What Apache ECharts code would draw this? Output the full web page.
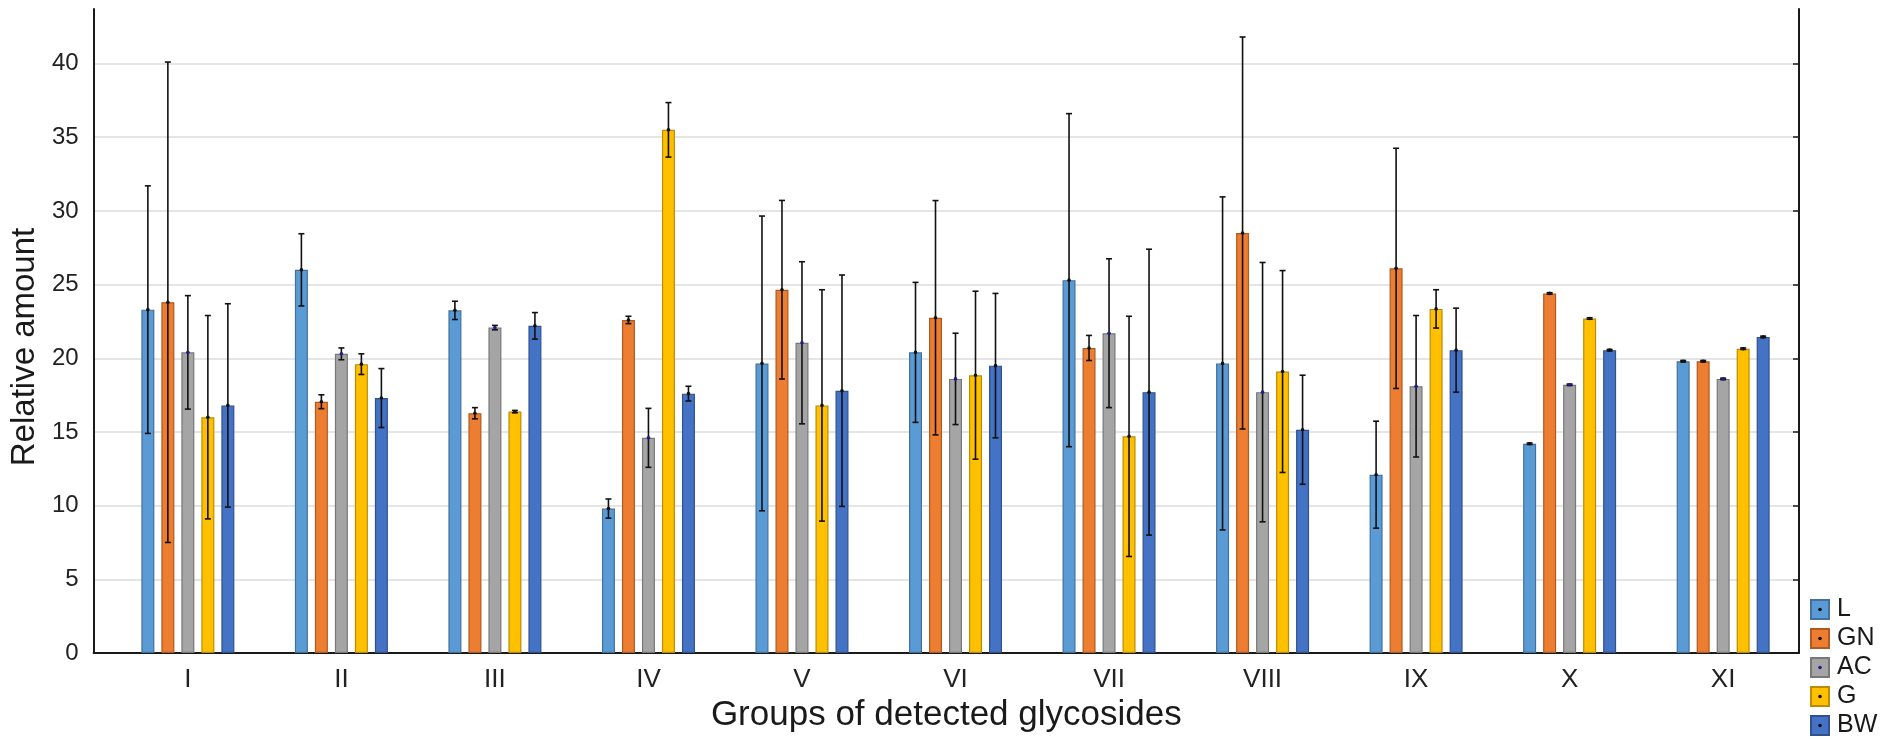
<!DOCTYPE html>
<html>
<head>
<meta charset="utf-8">
<title>Groups of detected glycosides</title>
<script src="https://cdn.jsdelivr.net/npm/echarts@6/dist/echarts.min.js"></script>
<style>
  html, body { margin: 0; padding: 0; background: #ffffff; }
  #chart { width: 1892px; height: 740px; }
</style>
</head>
<body>
<div id="chart"></div>
<script>
// Groups of glycosides on the x axis
const categories = ['I', 'II', 'III', 'IV', 'V', 'VI', 'VII', 'VIII', 'IX', 'X', 'XI'];
const seriesNames = ['L', 'GN', 'AC', 'G', 'BW'];

// Mean relative amount and half-width of the error bar, per group
const meanL  = [23.3, 26.0, 23.25, 9.8, 19.65, 20.4, 25.3, 19.65, 12.1, 14.2, 19.8];
const errL   = [8.4, 2.45, 0.62, 0.65, 10.0, 4.75, 11.3, 11.3, 3.63, 0.05, 0.05];
const meanGN = [23.8, 17.05, 16.27, 22.6, 24.65, 22.75, 20.7, 28.5, 26.1, 24.4, 19.8];
const errGN  = [16.3, 0.47, 0.38, 0.25, 6.06, 7.95, 0.85, 13.3, 8.15, 0.05, 0.05];
const meanAC = [20.4, 20.3, 22.08, 14.6, 21.05, 18.6, 21.7, 17.7, 18.1, 18.2, 18.6];
const errAC  = [3.85, 0.4, 0.15, 2.0, 5.5, 3.1, 5.05, 8.8, 4.8, 0.05, 0.05];
const meanG  = [16.0, 19.6, 16.38, 35.5, 16.8, 18.85, 14.7, 19.1, 23.35, 22.7, 20.65];
const errG   = [6.9, 0.7, 0.08, 1.85, 7.85, 5.7, 8.15, 6.85, 1.3, 0.05, 0.05];
const meanBW = [16.8, 17.3, 22.2, 17.6, 17.8, 19.5, 17.7, 15.15, 20.55, 20.55, 21.45];
const errBW  = [6.9, 2.0, 0.9, 0.5, 7.85, 4.9, 9.7, 3.7, 2.85, 0.05, 0.05];

// Y tick values
const yTicks = [0, 5, 10, 15, 20, 25, 30, 35, 40];

const means = [meanL, meanGN, meanAC, meanG, meanBW];
const errs = [errL, errGN, errAC, errG, errBW];

const fills   = ['#5B9BD5', '#ED7D31', '#A5A5A5', '#FFC000', '#4472C4'];
const borders = ['#41719C', '#AE5A21', '#787878', '#BC8C00', '#2F528F'];
const dots    = ['#111111', '#111111', '#1c1c8c', '#111111', '#111111'];

const FONT = '"Liberation Sans", Arial, sans-serif';
const BAR_W = 13;
const BAR_GAP = 7;            // px between neighbouring bars in a group
const STEP = BAR_W + BAR_GAP;
const CAP = 3;                // half width of error-bar caps

const xPositions = categories.map((c, i) => i + 1);

function legendIcon(i) {
  const svg = "<svg xmlns='http://www.w3.org/2000/svg' width='20' height='21'>" +
    "<rect x='1' y='1' width='18' height='19' fill='" + fills[i] + "' stroke='" + borders[i] + "' stroke-width='2'/>" +
    "<circle cx='10' cy='10.5' r='1.8' fill='" + dots[i] + "'/></svg>";
  return 'image://data:image/svg+xml;charset=utf-8,' + encodeURIComponent(svg);
}

const barSeries = seriesNames.map((name, k) => ({
  name: name,
  type: 'bar',
  barWidth: BAR_W,
  barGap: (BAR_GAP / BAR_W * 100) + '%',
  itemStyle: { color: fills[k], borderColor: borders[k], borderWidth: 1.2 },
  data: xPositions.map((x, i) => [x, means[k][i]]),
  z: 2
}));

const errorSeries = seriesNames.map((name, k) => ({
  name: name,
  type: 'custom',
  z: 5,
  silent: true,
  data: xPositions.map((x, i) => [x, means[k][i], errs[k][i]]),
  renderItem: function (params, api) {
    const x = api.value(0), m = api.value(1), e = api.value(2);
    const offset = (k - (seriesNames.length - 1) / 2) * STEP;
    const cx = api.coord([x, m])[0] + offset;
    const yMid = api.coord([x, m])[1];
    const yTop = api.coord([x, m + e])[1];
    const yBot = api.coord([x, m - e])[1];
    const st = { stroke: '#111111', lineWidth: 1.6 };
    return {
      type: 'group',
      children: [
        { type: 'line', shape: { x1: cx, y1: yTop, x2: cx, y2: yBot }, style: st },
        { type: 'line', shape: { x1: cx - CAP, y1: yTop, x2: cx + CAP, y2: yTop }, style: st },
        { type: 'line', shape: { x1: cx - CAP, y1: yBot, x2: cx + CAP, y2: yBot }, style: st },
        { type: 'circle', shape: { cx: cx, cy: yMid, r: 1.8 }, style: { fill: dots[k] } }
      ]
    };
  }
}));

const chart = echarts.init(document.getElementById('chart'), null, { renderer: 'canvas' });

chart.setOption({
  animation: false,
  backgroundColor: '#ffffff',
  textStyle: { fontFamily: FONT },
  grid: { left: 90, right: 93, top: 9, bottom: 87, containLabel: false },
  legend: {
    orient: 'vertical',
    left: 1810,
    top: 597,
    padding: 0,
    itemWidth: 20,
    itemHeight: 21,
    itemGap: 4,
    selectedMode: false,
    textStyle: { fontSize: 25, color: '#1a1a1a', fontFamily: FONT, padding: [0, 0, 0, 2] },
    data: seriesNames.map((n, i) => ({ name: n, icon: legendIcon(i) }))
  },
  xAxis: {
    type: 'value',
    min: 0.386,
    max: 11.494,
    axisLine: { show: true, onZero: false, lineStyle: { color: '#1a1a1a', width: 2 } },
    axisTick: { show: true, inside: true, length: 5, customValues: xPositions, lineStyle: { color: '#1a1a1a', width: 1.5 } },
    axisLabel: {
      customValues: xPositions,
      formatter: v => categories[Math.round(v) - 1],
      fontSize: 26, color: '#222222', margin: 14, fontFamily: FONT
    },
    splitLine: { show: false },
    name: 'Groups of detected glycosides',
    nameLocation: 'middle',
    nameGap: 44,
    nameTextStyle: { fontSize: 35, color: '#1a1a1a', fontFamily: FONT }
  },
  yAxis: [
    {
      type: 'value',
      position: 'left',
      min: 0,
      max: 43.7,
      interval: 5,
      axisLine: { show: true, lineStyle: { color: '#1a1a1a', width: 2 } },
      axisTick: { show: false },
      axisLabel: { customValues: yTicks, fontSize: 24, color: '#222222', margin: 15, fontFamily: FONT },
      splitLine: { show: true, showMaxLine: false, lineStyle: { color: '#dcdcdc', width: 1.5 } },
      name: 'Relative amount',
      nameLocation: 'middle',
      nameRotate: 90,
      nameGap: 47,
      nameTextStyle: { fontSize: 33, color: '#1a1a1a', fontFamily: FONT, padding: [0, 32, 0, 0] }
    },
    {
      type: 'value',
      position: 'right',
      min: 0,
      max: 43.7,
      interval: 5,
      axisLine: { show: true, lineStyle: { color: '#1a1a1a', width: 2 } },
      axisTick: { show: true, inside: true, length: 6, customValues: yTicks, lineStyle: { color: '#1a1a1a', width: 1.5 } },
      axisLabel: { show: false },
      splitLine: { show: false }
    }
  ],
  series: barSeries.concat(errorSeries)
});
</script>
</body>
</html>
